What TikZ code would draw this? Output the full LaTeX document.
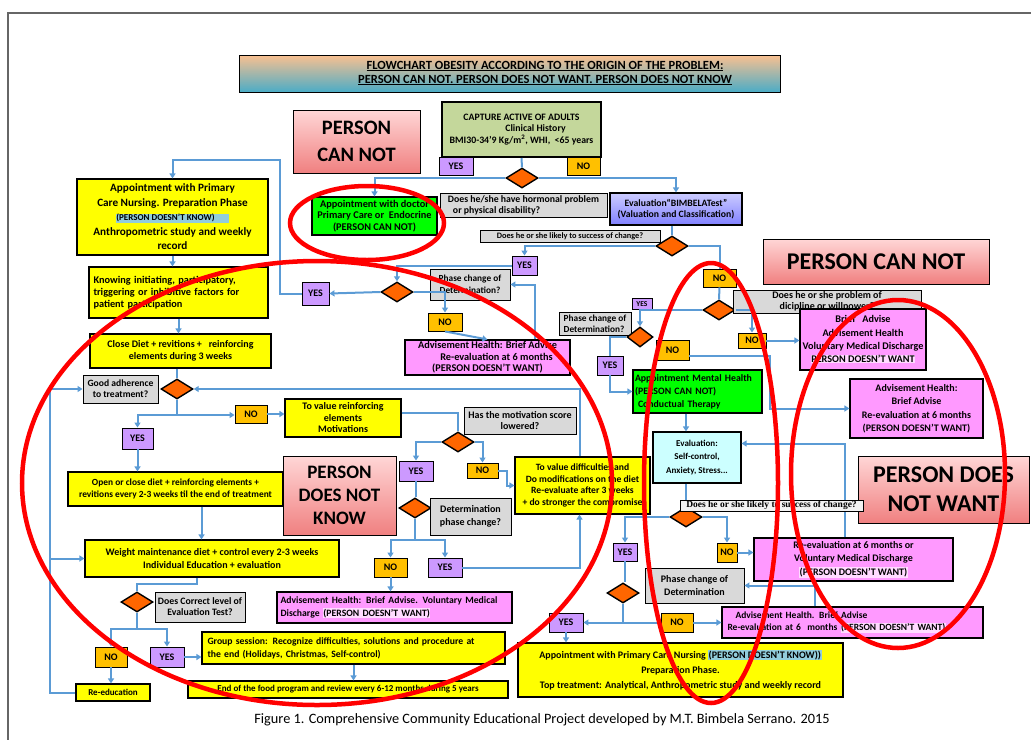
\documentclass[tikz,border=0pt]{standalone}
\usepackage{fontspec}
\setmainfont{Carlito}
\newfontfamily\serifpeq{Liberation Serif}
\usetikzlibrary{shapes.geometric}
\usetikzlibrary{arrows.meta}

\definecolor{flecha}{HTML}{5B9BD5}
\definecolor{amarillo}{HTML}{FFFF00}
\definecolor{rosa}{HTML}{FF99FF}
\definecolor{gris}{HTML}{D9D9D9}
\definecolor{lila}{HTML}{CC99FF}
\definecolor{naranja}{HTML}{FFC000}
\definecolor{naranjaR}{HTML}{FF6600}
\definecolor{verde}{HTML}{00FF00}
\definecolor{oliva}{HTML}{C4D79B}
\definecolor{celeste}{HTML}{CCFFFF}
\definecolor{resalte}{HTML}{92CDDC}
\definecolor{rojo}{HTML}{FF0000}
\definecolor{titnar}{HTML}{FAC090}
\definecolor{titazul}{HTML}{4BACC6}
\definecolor{rosaclaro}{HTML}{FFD6D6}
\definecolor{rosaoscuro}{HTML}{F08080}
\definecolor{azulA}{HTML}{CCCCFF}
\definecolor{azulB}{HTML}{8080FF}

\newcommand{\resaltar}[1]{{\setlength{\fboxsep}{0.6pt}\colorbox{resalte}{#1}}}
\newcommand{\resaltarR}[1]{{\setlength{\fboxsep}{0.6pt}\colorbox{rosa!35}{#1}}}

\begin{document}
\begin{tikzpicture}[x=1pt, y=-1pt,
    tam/.style 2 args={minimum width=#1, minimum height=#2},
    caja/.style={draw, line width=1.1pt, align=center, inner sep=1pt,
      font=\fontsize{10}{11.5}\selectfont\bfseries},
    amar/.style={caja, fill=amarillo},
    rosad/.style={caja, fill=rosa},
    verd/.style={caja, fill=verde},
    preg/.style={caja, line width=0.9pt, fill=gris},
    grande/.style={draw, line width=0.8pt, top color=rosaclaro, bottom color=rosaoscuro,
      align=center, inner sep=1pt},
    etqsi/.style={draw, line width=0.9pt, fill=lila, inner sep=0pt,
      font=\fontsize{10}{11}\selectfont\bfseries},
    etqno/.style={draw, line width=0.9pt, fill=naranja, inner sep=0pt,
      font=\fontsize{10}{11}\selectfont\bfseries},
    rombo/.style={diamond, draw, fill=naranjaR, line width=1.4pt, inner sep=0pt,
      minimum width=32, minimum height=20},
    flech/.style={draw=flecha, line width=2pt, -{Triangle[length=5pt,width=6pt]}},
    lin/.style={draw=flecha, line width=2pt},
    ovalo/.style={draw=rojo, line width=4.5pt}]

  \useasboundingbox (0,0) rectangle (1031,740);
  % Marco
  \draw[gray!80!black, line width=1.2pt] (1031,13) -- (8,13) -- (8,740);

  % Titulo
  \node[draw, line width=1pt, top color=titnar, middle color=titnar, bottom color=titazul,
    tam={541}{37}] (tit) at (509.5,73.5) {};
  \node[font=\fontsize{12.5}{14}\selectfont\bfseries, align=center] (tittxt) at (545,73)
    {\underline{FLOWCHART OBESITY ACCORDING TO THE ORIGIN OF THE PROBLEM:}\\
     \underline{PERSON CAN NOT. PERSON DOES NOT WANT. PERSON DOES NOT KNOW}};

  % Nodos arriba
  \node[caja, fill=oliva, line width=2pt, tam={159}{55}, font=\fontsize{9.8}{11.5}\selectfont\bfseries] (capture) at (521.5,129.5)
    {CAPTURE ACTIVE OF ADULTS\\\hspace{28pt}Clinical History\\BMI30-34'9 Kg/m\textsuperscript{2}, WHI,\ \ <65 years};
  \node[etqsi, tam={34}{18}] (capyes) at (456,166) {YES};
  \node[etqno, tam={33}{18}] (capno) at (583.5,166) {NO};
  \node[rombo] (d1) at (522,178) {};
  \node[grande, tam={127}{63}, font=\fontsize{20.5}{27}\selectfont\bfseries] (cannot1) at (356.5,141.5) {PERSON\\CAN NOT};
  \node[verd, tam={125}{38}, font=\fontsize{10.3}{11.7}\selectfont\bfseries] (doctor) at (374.5,216)
    {Appointment with doctor\\Primary Care or\ \ Endocrine\\(PERSON CAN NOT)};
  \node[preg, tam={167}{24}, align=left, font=\fontsize{9.8}{11}\selectfont\bfseries] (hormq) at (523.5,205)
    {Does he/she have hormonal problem\\\hspace{5pt}or physical disability?};
  \node[caja, top color=azulA, bottom color=azulB, tam={132}{32}, font=\fontsize{9.7}{11.5}\selectfont\bfseries] (bimbela) at (676,209)
    {Evaluation“BIMBELATest”\\(Valuation and Classification)};
  \node[preg, tam={180}{12}, font=\fontsize{8.3}{9}\selectfont\bfseries] (likelyq) at (570,236)
    {Does he or she likely to success of change?};
  \node[rombo] (d2) at (672,246) {};
  \node[etqsi, tam={25}{19}] (yes2) at (524.5,265.5) {YES};
  \node[preg, tam={80}{31}, font=\fontsize{9.3}{11.5}\selectfont\bfseries] (phase1) at (470,284.5) {Phase change of\\Determination?};
  \node[rombo] (d3) at (397,292) {};
  \node[etqsi, tam={27}{23}] (yes3) at (315.5,293.5) {YES};
  \node[etqno, tam={34}{18}] (no3) at (445,322) {NO};
  \node[rosad, tam={165}{35}, font=\fontsize{10.3}{11.5}\selectfont\bfseries] (adv1) at (487.5,357.5)
    {Advisement Health: Brief Advise\\\hspace{18pt}Re-evaluation at 6 months\\(PERSON DOESN’T WANT)};

  % Nodos derecha
  \node[grande, tam={226}{45}, font=\fontsize{24}{28}\selectfont\bfseries] (cannot2) at (876,261.5) {PERSON CAN NOT};
  \node[etqno, tam={33}{18}] (noR1) at (719.5,278) {NO};
  \node[rombo] (d4) at (719,310) {};
  \node[preg, tam={188}{23}, font=\fontsize{10}{10.5}\selectfont\bfseries] (dicq) at (827,301.5) {Does he or she problem of\\dicipline or willpower?};
  \node[rosad, tam={126}{61}, font=\fontsize{10.2}{13.2}\selectfont\bfseries] (adv2) at (863,339.5)
    {Brief\ \ \ Advise\\Advisement Health\\Voluntary Medical Discharge\\\resaltarR{PERSON DOESN’T WANT}};
  \node[etqsi, tam={20}{11}, font=\fontsize{7.5}{8}\selectfont\bfseries] (yes4) at (642,304) {YES};
  \node[preg, tam={72}{23}, align=left, font=\fontsize{9.3}{11}\selectfont\bfseries] (phase2) at (595,323.5) {Phase change of\\Determination?};
  \node[rombo, minimum width=26, minimum height=20] (d5) at (640,337) {};
  \node[etqno, tam={28}{15}] (noR2) at (752,340.5) {NO};
  \node[etqno, tam={33}{20}] (no5) at (672.5,350) {NO};
  \node[etqsi, tam={26}{19}] (yes5) at (610,365.5) {YES};
  \node[verd, tam={129}{43}, align=left, text width=125, font=\fontsize{9.8}{13}\selectfont\bfseries] (mental) at (697.5,391.5)
    {Appointment Mental Health\\(PERSON CAN NOT)\\\hspace{3pt}Conductual Therapy};
  \node[rosad, tam={133}{59}, font=\fontsize{10}{13.5}\selectfont\bfseries] (adv3) at (916.5,408.5)
    {Advisement Health:\\Brief Advise\\Re-evaluation at 6 months\\(PERSON DOESN’T WANT)};
  \node[caja, fill=celeste, tam={88}{51}, font=\fontsize{9}{13.5}\selectfont\bfseries] (eval) at (697,457.5)
    {Evaluation:\\Self-control,\\Anxiety, Stress...};
  \node[grande, tam={171}{67}, font=\fontsize{24}{29}\selectfont\bfseries] (cannot3) at (943.5,489.5) {PERSON DOES\\NOT WANT};
  \node[rombo] (d6) at (686,517) {};
  \node[etqsi, tam={24}{18}] (yes6) at (625,552) {YES};
  \node[etqno, tam={20}{19}] (no6) at (727,552.5) {NO};
  \node[rosad, tam={199}{43}, font=\fontsize{10}{13.5}\selectfont\bfseries] (reeval) at (853.5,559.5)
    {Re-evaluation at 6 months or\\Voluntary Medical Discharge\\\resaltarR{(PERSON DOESN’T WANT)}};
  \node[rombo] (d7) at (623,593) {};
  \node[preg, tam={99}{35}, font=\fontsize{10}{12.5}\selectfont\bfseries] (phase3) at (694.5,585.5) {Phase change of\\Determination};
  \node[etqsi, tam={34}{19}] (yes7) at (566,622.5) {YES};
  \node[etqno, tam={32}{19}] (no7) at (677,622.5) {NO};
  \node[rosad, tam={261}{31}, align=left, text width=250, font=\fontsize{9.5}{12}\selectfont\bfseries] (adv4) at (852.5,622.5)
    {\hspace{8pt}Advisement Health. Brief Advise\\Re-evaluation at 6\ \ months \resaltarR{(PERSON DOESN’T WANT)}};
  \node[amar, tam={325}{54}, font=\fontsize{10}{15}\selectfont\bfseries] (appt2) at (680.5,670)
    {Appointment with Primary Care Nursing \resaltar{(PERSON DOESN’T KNOW))}\\Preparation Phase.\\Top treatment: Analytical, Anthropometric study and weekly record};

  % Nodos izquierda
  \node[amar, tam={191}{76}, font=\fontsize{11.2}{14.5}\selectfont\bfseries] (appt1) at (172.5,217)
    {Appointment with Primary\\Care Nursing. Preparation Phase\\\resaltar{\fontsize{9}{10}\selectfont(PERSON DOESN’T KNOW)\hspace{14pt}}\\Anthropometric study and weekly\\record};
  \node[amar, tam={179}{51}, align=left, text width=170, font=\fontsize{10.3}{11.7}\selectfont\bfseries] (know) at (178.5,292.5)
    {Knowing initiating, participatory,\\triggering or inhibitive factors for\\patient participation};
  \node[amar, tam={181}{34}, font=\fontsize{10}{11.7}\selectfont\bfseries] (close) at (180.5,351)
    {Close Diet + revitions +\ \ \ reinforcing\\elements during 3 weeks};
  \node[rombo] (d8) at (177,389) {};
  \node[preg, tam={75}{28}, font=\fontsize{9.6}{11}\selectfont\bfseries] (adhq) at (120.5,389) {Good adherence\\to treatment?};
  \node[etqno, tam={32}{18}] (no8) at (251,414) {NO};
  \node[etqsi, tam={31}{21}] (yes8) at (137.5,438.5) {YES};
  \node[amar, tam={116}{38}] (reinf) at (343,418)
    {To value reinforcing\\elements\\Motivations};
  \node[preg, tam={112}{27}] (motq) at (520,420.5) {Has the motivation score\\lowered?};
  \node[rombo] (d9) at (458,442) {};
  \node[etqsi, tam={34}{20}] (yes9) at (416,471) {YES};
  \node[etqno, tam={31}{15}] (no9) at (482.5,470.5) {NO};
  \node[amar, tam={135}{57}, font=\fontsize{9.6}{11.7}\selectfont\bfseries] (diffic) at (582.5,485.5)
    {To value difficulties and\\Do modifications on the diet\\Re-evaluate after 3 weeks\\+ do stronger the compromise};
  \node[amar, tam={215}{34}, font=\fontsize{9.4}{11.7}\selectfont\bfseries] (opendiet) at (175.5,489)
    {Open or close diet + reinforcing elements +\\revitions every 2-3 weeks til the end of treatment};
  \node[grande, tam={113}{79}, font=\fontsize{19}{23}\selectfont\bfseries] (cannot4) at (339.5,495.5) {PERSON\\DOES NOT\\KNOW};
  \node[rombo] (d10) at (415,508) {};
  \node[preg, tam={81}{37}, font=\fontsize{10}{12.5}\selectfont\bfseries] (detq) at (470.5,516.5) {Determination\\phase change?};
  \node[etqno, tam={33}{19}] (no10) at (390.5,567.5) {NO};
  \node[etqsi, tam={34}{19}] (yes10) at (445,567.5) {YES};
  \node[rosad, tam={235}{31}, align=left, text width=228, draw=black, double=rosa!70, double distance=0pt,
    font=\fontsize{9.7}{12.5}\selectfont\bfseries] (adv5) at (394.5,607.5)
    {Advisement Health: Brief Advise. Voluntary Medical\\Discharge\ \resaltarR{(PERSON DOESN’T WANT)}};
  \node[amar, tam={254}{37}, font=\fontsize{10}{13}\selectfont\bfseries] (weight) at (212,558.5)
    {Weight maintenance diet + control every 2-3 weeks\\Individual Education + evaluation};
  \node[rombo] (d11) at (137,602) {};
  \node[preg, tam={90}{30}, font=\fontsize{9.8}{11}\selectfont\bfseries] (corrq) at (200,607) {Does Correct level of\\Evaluation Test?};
  \node[etqno, tam={32}{20}] (no11) at (111,657) {NO};
  \node[etqsi, tam={34}{20}] (yes11) at (167,657) {YES};
  \node[amar, tam={74}{17}, font=\fontsize{9}{10}\selectfont\bfseries] (reedu) at (113,692.5) {Re-education};
  \node[amar, tam={303}{32}, align=left, text width=292, font=\fontsize{9.7}{13}\selectfont\bfseries] (group) at (353.5,648)
    {Group session: Recognize difficulties, solutions and procedure at\\the end (Holidays, Christmas, Self-control)};
  \node[amar, tam={320}{17}, font=\fontsize{9}{10}\selectfont\bfseries] (endp) at (348,689.5)
    {End of the food program and review every 6-12 months during 5 years};

  \node[font=\fontsize{14.3}{16}\selectfont] (pie) at (542,720)
    {Figure 1. Comprehensive Community Educational Project developed by M.T. Bimbela Serrano. 2015};

  % Aristas
  \coordinate (loop1) at (280,160);
  \coordinate (j8) at (177,415);
  \coordinate (j10) at (415,540);
  \coordinate (j11) at (137,629);
  \coordinate (cl) at (50,0);

  \draw[lin] (capture.south) -- (d1.north);
  \draw[flech] (d1.west) -| (doctor.north);
  \draw[flech] (d1.east) -| (bimbela.north);
  \draw[lin] (bimbela.south -| d2) -- (d2.north);
  \draw[flech] (d2.west) -| (yes2.north);
  \draw[flech] (yes2.west) -| (d3.north);
  \draw[flech] (d3.west) -- (yes3.east);
  \draw[flech] (yes3.west) -| (loop1) -| (appt1.north);
  \draw[flech] (d3.east) -| (no3.north);
  \draw[flech] (no3.south) -- (adv1.north);
  \draw[flech] ([xshift=47.5]adv1.north) |- (phase1.east);

  \draw[lin] (d2.east) -| (noR1.north);
  \draw[lin] (noR1.south) -- (d4.north);
  \draw[flech] (d4.west) -| (d5.north);
  \draw[flech] (d4.east) -| (noR2.north);
  \draw[flech] (noR2.east) -- (noR2.east -| adv2.west);
  \draw[lin] (d5.west) -| (yes5.north);
  \draw[flech] (yes5.south) |- (mental.west);
  \draw[flech] ([yshift=-6]no5.east) -- ++(81,0) |- (adv3.west);
  \draw[flech] (mental.south -| d6) -- (eval.north -| d6);
  \draw[flech] ([xshift=-8.5]reeval.north) |- ([yshift=14]eval.east);
  \draw[lin] (eval.south -| d6) -- (d6.north);
  \draw[flech] (d6.west) -| (yes6.north);
  \draw[flech] (d6.east) -| (no6.north);
  \draw[flech] (no6.east) -- (no6.east -| reeval.west);
  \draw[lin] (yes6.south) -- (yes6.south |- d7.north);
  \draw[flech] (d7.south) |- (yes7.east);
  \draw[lin] (d7.south) |- (no7.west);
  \draw[flech] (no7.east) -- (adv4.west);
  \draw[flech] ([xshift=-37.5]adv4.north) |- (phase3.east);
  \draw[flech] (yes7.south) -- (yes7.south |- appt2.north);

  \draw[flech] (appt1.south) -- (appt1.south |- know.north);
  \draw[flech] (know.south) -- (know.south |- close.north);
  \draw[lin] (close.south -| d8) -- (d8.north);
  \draw[lin] (d8.south) -- (j8);
  \draw[flech] (j8) -| (yes8.north);
  \draw[flech] (j8) -- (j8 -| no8.west);
  \draw[flech] (yes8.south) -- (yes8.south |- opendiet.north);
  \draw[flech] (no8.east) -- (no8.east -| reinf.west);
  \draw[lin] ([yshift=5]reinf.east) -| (d9.north);
  \draw[flech] (d9.west) -| (yes9.north);
  \draw[flech] (d9.east) -| (no9.north);
  \draw[flech] (no9.east) -- ++(9,0) |- (diffic.west);
  \draw[lin] (yes9.south) -- (yes9.south |- d10.north);
  \draw[lin] (d10.south) -- (j10);
  \draw[flech] (j10) -| (no10.north);
  \draw[flech] (j10) -| (yes10.north);
  \draw[flech] (yes10.east) -| ([xshift=-3]diffic.south);
  \draw[flech] ([xshift=-3]diffic.north) |- (d8.east);
  \draw[flech] (no10.south) -- (no10.south |- adv5.north);
  \draw[flech] ([xshift=26]opendiet.south) -- ([xshift=26]opendiet.south |- weight.north);
  \draw[lin] ([xshift=-15]weight.south) -- ++(0,6) -| (d11.north);
  \draw[lin] (d11.south) -- (j11);
  \draw[flech] (j11) -| (no11.north);
  \draw[flech] (j11) -| (yes11.north);
  \draw[flech] (no11.south) -- (no11.south |- reedu.north);
  \draw[flech] (yes11.east) -- (yes11.east -| group.west);
  \draw[flech] (group.south) -- (group.south |- endp.north);
  \draw[flech] (reedu.west) -| (cl |- adhq.west) -- (adhq.west);
  \draw[flech] (cl |- weight.west) -- (weight.west);

  \node[draw, line width=0.8pt, fill=gray!10, inner sep=0.5pt, tam={183}{11},
    font=\fontsize{9.5}{9.5}\serifpeq\bfseries] (likelyq2) at (771.5,505.5)
    {Does he or she likely to success of change?};

  % Ovalos
  \draw[ovalo] (367,223) ellipse [x radius=77pt, y radius=37pt];
  \draw[ovalo] (317,483) ellipse [x radius=295pt, y radius=222pt];
  \draw[ovalo] (711,483) ellipse [x radius=67pt, y radius=220pt];
  \draw[ovalo] (898,474) ellipse [x radius=107pt, y radius=174pt];
\end{tikzpicture}
\end{document}
